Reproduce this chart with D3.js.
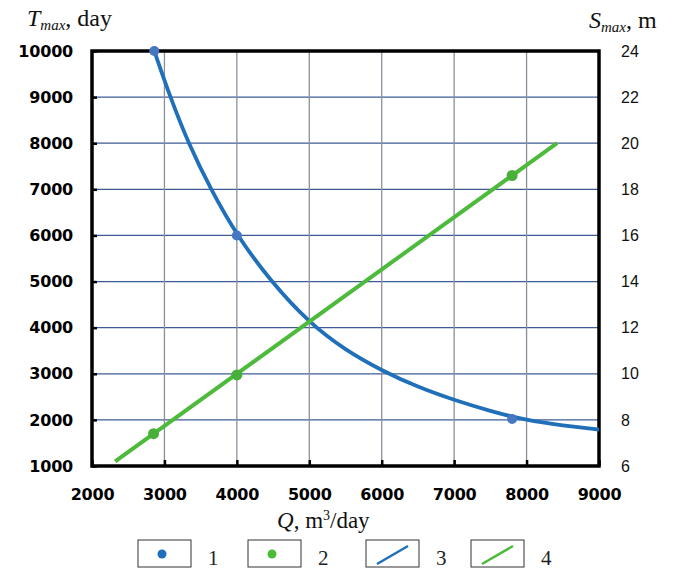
<!DOCTYPE html>
<html>
<head>
<meta charset="utf-8">
<script src="https://cdn.jsdelivr.net/npm/d3@7"></script>
<style>
  body { margin: 0; background: #fff; }
  svg { display: block; }
</style>
</head>
<body>
<div id="chart-container"></div>
<script>
// curve 3: T_max (left axis) vs Q
const qCurve = [2860, 3080, 3330, 3640, 4000, 4470, 5000, 5500, 6000, 6500, 7000, 7500, 8000, 8500, 9000];
const tCurve = [10000, 9000, 8000, 7000, 6000, 5000, 4100, 3510, 3070, 2710, 2430, 2190, 1990, 1880, 1790];
// points 1
const qPoints1 = [2860, 4000, 7800];
const tPoints1 = [10000, 6000, 2020];
// line 4: S_max (right axis) vs Q
const qLine = [2320, 8420];
const sLine = [6.2, 20];
// points 2
const qPoints2 = [2850, 4000, 7800];
const sPoints2 = [7.4, 9.95, 18.6];

const xTicks = [2000, 3000, 4000, 5000, 6000, 7000, 8000, 9000];
const leftTicks = [1000, 2000, 3000, 4000, 5000, 6000, 7000, 8000, 9000, 10000];
const rightTicks = [6, 8, 10, 12, 14, 16, 18, 20, 22, 24];
const legendLabels = ["1", "2", "3", "4"];

const W = 673, H = 570;
const blue = "#1f6fb9", green = "#4dba3c";

const svg = d3.select("#chart-container").append("svg")
    .attr("width", W)
    .attr("height", H);

const x = d3.scaleLinear().domain([2000, 9000]).range([92, 599]);
const yL = d3.scaleLinear().domain([1000, 10000]).range([466, 51]);
const yR = d3.scaleLinear().domain([6, 24]).range([466, 51]);

// grid
svg.append("g")
    .selectAll("line")
    .data(leftTicks.slice(1, -1))
    .enter().append("line")
    .attr("x1", x(2000)).attr("x2", x(9000))
    .attr("y1", d => yL(d)).attr("y2", d => yL(d))
    .attr("stroke", "#3d5c96").attr("stroke-width", 1.3);

svg.append("g")
    .selectAll("line")
    .data(xTicks.slice(1, -1))
    .enter().append("line")
    .attr("x1", d => x(d)).attr("x2", d => x(d))
    .attr("y1", yL(1000)).attr("y2", yL(10000))
    .attr("stroke", "#8b8f9a").attr("stroke-width", 1.3);

// axes
const tickFont = "'DejaVu Sans', sans-serif";

const axL = svg.append("g")
    .attr("transform", `translate(${x(2000)},0)`)
    .call(d3.axisLeft(yL).tickValues(leftTicks).tickSize(-5).tickPadding(19).tickFormat(d3.format("d")));
const axB = svg.append("g")
    .attr("transform", `translate(0,${yL(1000)})`)
    .call(d3.axisBottom(x).tickValues(xTicks).tickSize(-6).tickPadding(20).tickFormat(d3.format("d")));
[axL, axB].forEach(g => {
    g.select(".domain").remove();
    g.selectAll(".tick line").attr("stroke", "#000").attr("stroke-width", 2.5);
    g.selectAll("text")
        .style("font-family", tickFont)
        .style("font-weight", "bold")
        .style("font-size", "16px")
        .style("letter-spacing", "-0.2px")
        .attr("fill", "#000");
});
axB.selectAll("text").attr("dy", "0.9em");

const axR = svg.append("g")
    .attr("transform", `translate(${x(9000)},0)`)
    .call(d3.axisRight(yR).tickValues(rightTicks).tickSize(0).tickPadding(22));
axR.select(".domain").remove();
axR.selectAll("text")
    .style("font-family", "'Liberation Sans', Arial, sans-serif")
    .style("font-size", "16px")
    .attr("fill", "#111");

// frame
svg.append("rect")
    .attr("x", x(2000)).attr("y", yL(10000))
    .attr("width", x(9000) - x(2000)).attr("height", yL(1000) - yL(10000))
    .attr("fill", "none").attr("stroke", "#000").attr("stroke-width", 3.5);

// series
const curveData = qCurve.map((q, i) => [q, tCurve[i]]);
svg.append("path")
    .datum(curveData)
    .attr("fill", "none").attr("stroke", blue).attr("stroke-width", 3.8)
    .attr("d", d3.line().x(d => x(d[0])).y(d => yL(d[1])).curve(d3.curveBasis));

const lineData = qLine.map((q, i) => [q, sLine[i]]);
svg.append("path")
    .datum(lineData)
    .attr("fill", "none").attr("stroke", green).attr("stroke-width", 4)
    .attr("d", d3.line().x(d => x(d[0])).y(d => yR(d[1])));

svg.selectAll(".p1")
    .data(qPoints1.map((q, i) => [q, tPoints1[i]]))
    .enter().append("circle")
    .attr("class", "p1")
    .attr("cx", d => x(d[0])).attr("cy", d => yL(d[1]))
    .attr("r", 5).attr("fill", "#4577c2");

svg.selectAll(".p2")
    .data(qPoints2.map((q, i) => [q, sPoints2[i]]))
    .enter().append("circle")
    .attr("class", "p2")
    .attr("cx", d => x(d[0])).attr("cy", d => yR(d[1]))
    .attr("r", 5.5).attr("fill", "#48b03a");

// axis titles
const serif = "'Liberation Serif', 'Times New Roman', serif";
const tTitle = svg.append("text")
    .attr("x", 27).attr("y", 26)
    .style("font-family", serif).style("font-size", "24px").attr("fill", "#111");
tTitle.append("tspan").style("font-style", "italic").text("T");
tTitle.append("tspan").style("font-style", "italic").style("font-size", "15px").attr("dy", 4).text("max");
tTitle.append("tspan").attr("dy", -4).text(", day");

const sTitle = svg.append("text")
    .attr("x", 589).attr("y", 28)
    .style("font-family", serif).style("font-size", "24px").attr("fill", "#111");
sTitle.append("tspan").style("font-style", "italic").text("S");
sTitle.append("tspan").style("font-style", "italic").style("font-size", "15px").attr("dy", 4).text("max");
sTitle.append("tspan").attr("dy", -4).text(", m");

const qTitle = svg.append("text")
    .attr("x", 277).attr("y", 528)
    .style("font-family", serif).style("font-size", "23px").attr("fill", "#111");
qTitle.append("tspan").style("font-style", "italic").text("Q");
qTitle.append("tspan").text(", m");
qTitle.append("tspan").style("font-size", "14px").attr("dy", -8).text("3");
qTitle.append("tspan").attr("dy", 8).text("/day");

// legend
const legendX = [138, 248, 366, 471];
const leg = svg.append("g");
legendLabels.forEach((lab, i) => {
    const g = leg.append("g").attr("transform", `translate(${legendX[i]},540)`);
    g.append("rect")
        .attr("width", 53).attr("height", 27)
        .attr("fill", "#fff").attr("stroke", "#333").attr("stroke-width", 1);
    const col = (i % 2 === 0) ? blue : green;
    if (i < 2) {
        g.append("circle").attr("cx", 24).attr("cy", 14).attr("r", 4.5).attr("fill", col);
    } else {
        g.append("line")
            .attr("x1", 11).attr("y1", 24).attr("x2", 42).attr("y2", 6)
            .attr("stroke", col).attr("stroke-width", 2.5);
    }
    g.append("text")
        .attr("x", 70).attr("y", 25)
        .style("font-family", serif).style("font-size", "21px").attr("fill", "#222")
        .text(lab);
});
</script>
</body>
</html>
